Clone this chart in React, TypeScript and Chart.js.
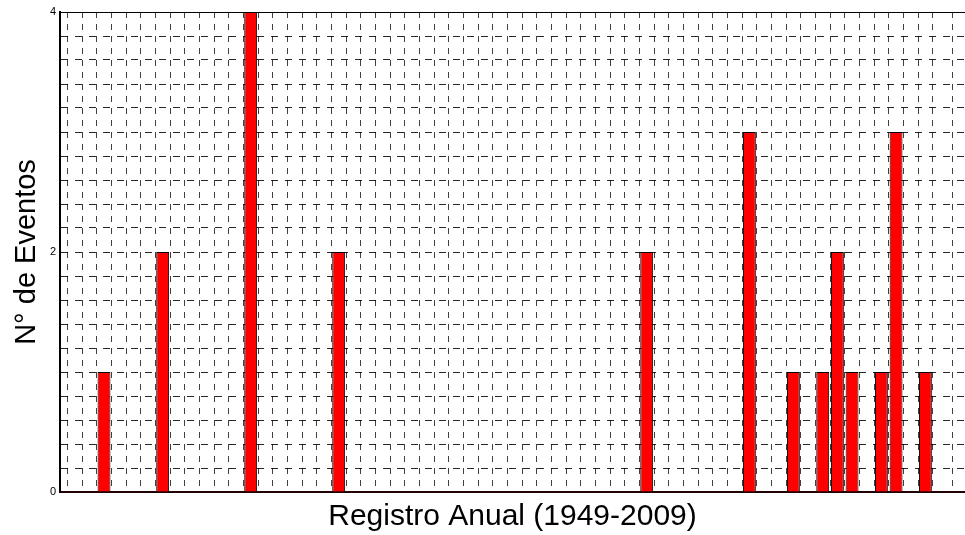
import React, { useEffect, useRef } from "react";
import { Chart, registerables } from "chart.js";

Chart.register(...registerables);

const years = [1952, 1956, 1962, 1968, 1989, 1996, 1999, 2001, 2002, 2003, 2005, 2006, 2008];
const events = [1, 2, 4, 2, 2, 3, 1, 1, 2, 1, 1, 3, 1];
const yTickLabels = [0, 2, 4];
const xMin = 1949;
const xMax = 2010.7;
const xTitle = "Registro Anual (1949-2009)";
const yTitle = "N° de Eventos";

const FONT = "'Liberation Sans', Arial, Helvetica, sans-serif";

const framePlugin = {
  id: "frameTop",
  afterDraw(chart: any) {
    const { ctx, chartArea } = chart;
    ctx.save();
    ctx.strokeStyle = "#000";
    ctx.lineWidth = 1;
    ctx.beginPath();
    ctx.moveTo(chartArea.left, chartArea.top + 0.5);
    ctx.lineTo(chartArea.right, chartArea.top + 0.5);
    ctx.stroke();
    ctx.restore();
  },
};

export default function App() {
  const ref = useRef<HTMLCanvasElement>(null);
  useEffect(() => {
    document.body.style.overflow = "hidden";
    const canvas = ref.current!;
    const chart = new Chart(canvas, {
      type: "bar",
      data: {
        datasets: [
          {
            data: years.map((y, i) => ({ x: y, y: events[i] })),
            backgroundColor: "#ff0000",
            borderColor: "#000000",
            borderWidth: 1,
            barPercentage: 0.88,
            categoryPercentage: 1,
          },
        ],
      },
      options: {
        animation: false,
        responsive: false,
        maintainAspectRatio: false,
        layout: { padding: { top: 12, left: 0, right: 0, bottom: 0 } },
        plugins: { legend: { display: false }, tooltip: { enabled: false } },
        scales: {
          x: {
            type: "linear",
            min: xMin,
            max: xMax,
            offset: false,
            ticks: { stepSize: 1, display: false },
            grid: {
              color: "rgba(0,0,0,0.75)",
              lineWidth: 1,
              drawTicks: false,
            },
            border: { color: "#200000", width: 2, dash: [6, 6], display: true } as any,
            title: {
              display: true,
              text: xTitle,
              color: "#000",
              font: { family: FONT, size: 30 },
              padding: { top: 0, bottom: 0 },
            },
            afterFit: (scale: any) => {
              scale.height = 43;
            },
          },
          y: {
            min: 0,
            max: 4,
            ticks: {
              stepSize: 0.2,
              color: "#000",
              font: { family: FONT, size: 11 },
              padding: 4,
              autoSkip: false,
              callback: (v: any) => {
                const n = Number(v);
                const hit = yTickLabels.find((t) => Math.abs(t - n) < 1e-6);
                return hit !== undefined ? String(hit) : "";
              },
            },
            grid: {
              color: "rgba(0,0,0,0.85)",
              lineWidth: 1,
              drawTicks: false,
            },
            border: { color: "#000", width: 2, dash: [7, 7] } as any,
            title: {
              display: true,
              text: yTitle,
              color: "#000",
              font: { family: FONT, size: 29 },
              padding: { top: 10, bottom: 0 },
            },
            afterFit: (scale: any) => {
              scale.width = 60;
            },
          },
        },
      },
      plugins: [framePlugin],
    });
    return () => chart.destroy();
  }, []);
  return (
    <div style={{ position: "absolute", left: 0, top: 0, width: 965, height: 535, overflow: "hidden" }}>
      <canvas ref={ref} width={965} height={535} style={{ display: "block", width: 965, height: 535 }} />
    </div>
  );
}
